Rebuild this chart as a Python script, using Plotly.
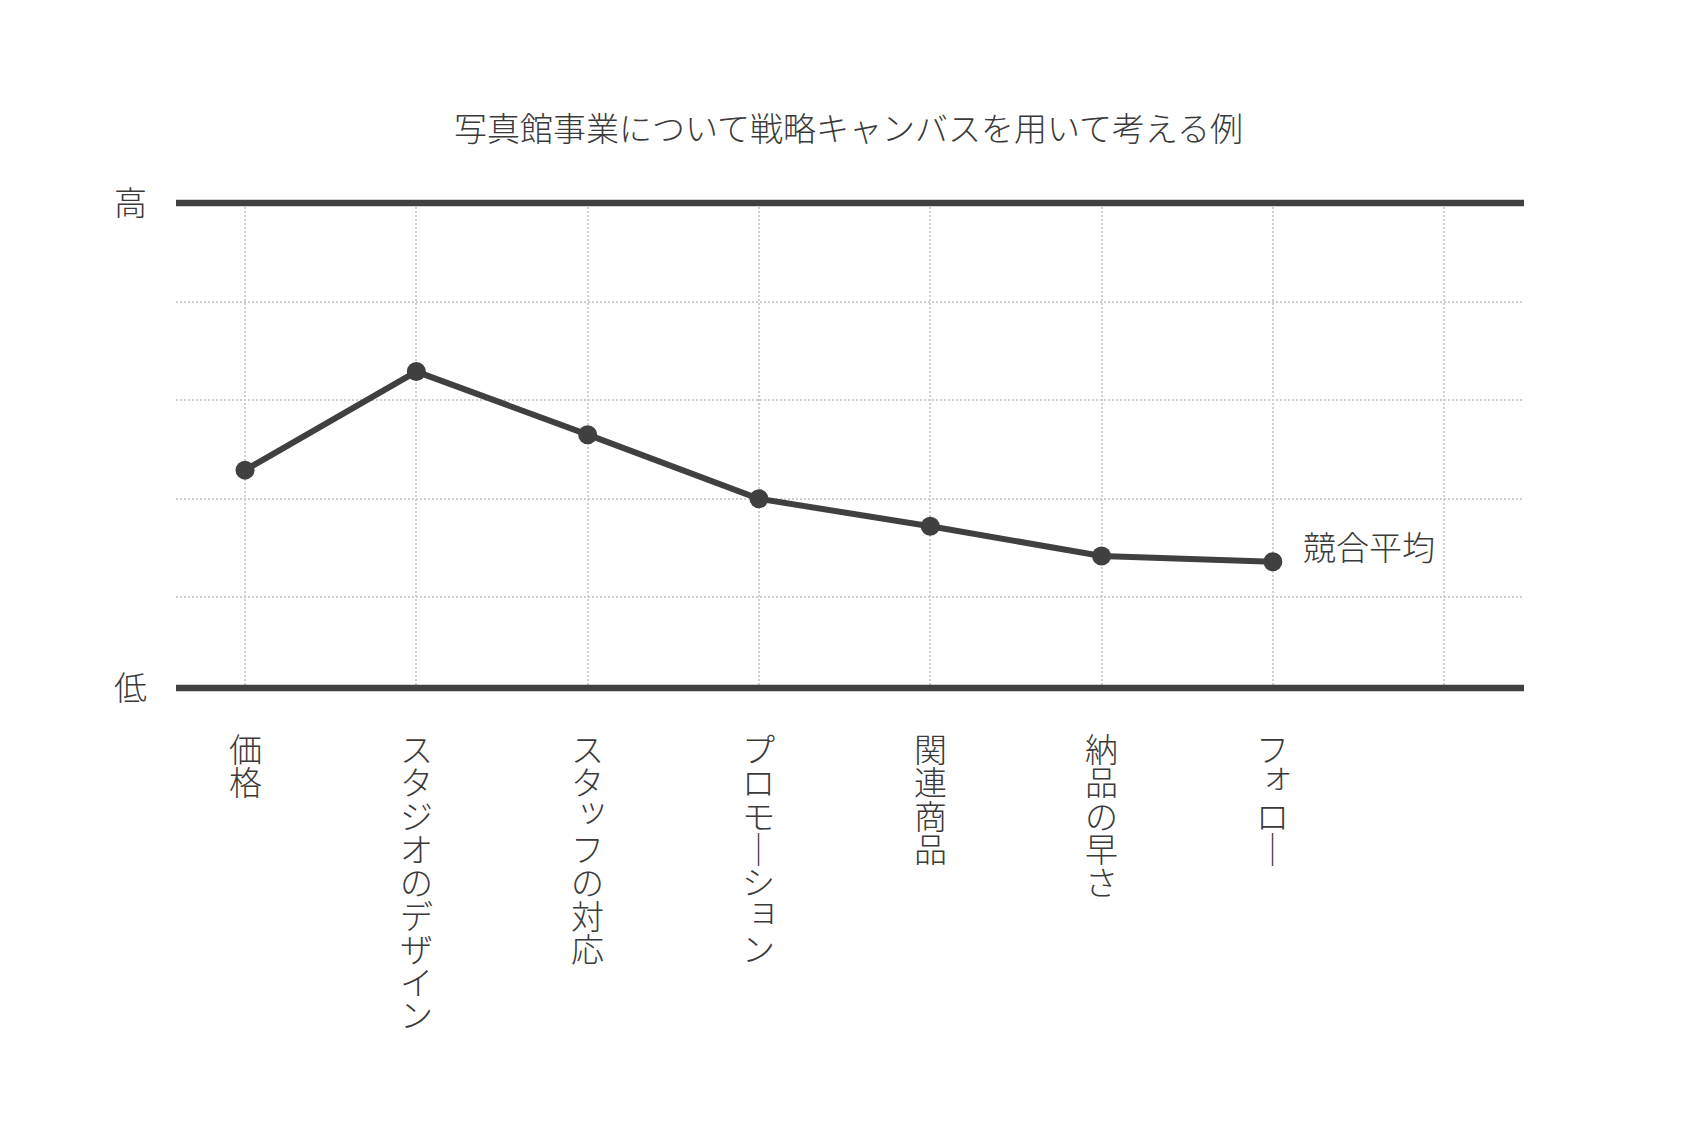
import plotly.graph_objects as go

# ---- data ----
title_text = "写真館事業について戦略キャンバスを用いて考える例"
categories = ["価格", "スタジオのデザイン", "スタッフの対応", "プロモーション", "関連商品", "納品の早さ", "フォロー"]
values = [2.29, 3.29, 2.65, 2.00, 1.72, 1.42, 1.36]
series_name = "競合平均"
level_labels = ["低", "高"]
y_low, y_high = 0.08, 5.0
grid_y = [1, 2, 3, 4]

# ---- style ----
FONT = "Noto Sans CJK JP"
TXT = "#3a3a3a"
LINE = "#404040"
GRID = "#cfcfcf"
FS = 33
STEP = 33.3

x_idx = list(range(len(categories)))

fig = go.Figure()
fig.add_trace(go.Scatter(
    x=x_idx, y=values, mode="lines+markers", name=series_name,
    line=dict(color=LINE, width=6),
    marker=dict(color=LINE, size=19),
    showlegend=False, hoverinfo="skip",
))

# vertical-writing category labels
small_kana = set("ァィゥェォッャュョヮぁぃぅぇぉっゃゅょ")
vert_map = {"ー": "｜"}
annotations = []
for xi, label in enumerate(categories):
    for j, ch in enumerate(label):
        small = ch in small_kana
        annotations.append(dict(
            x=xi, xref="x", y=0, yref="paper",
            xanchor="center", yanchor="middle",
            xshift=5 if small else 0,
            yshift=-(60 + STEP * j) + (7 if small else 0),
            text=vert_map.get(ch, ch), showarrow=False,
            font=dict(family=FONT, size=FS, color=TXT, weight=300),
        ))

# series label at the end of the line
annotations.append(dict(
    x=x_idx[-1], y=values[-1], xref="x", yref="y",
    xanchor="left", yanchor="middle", xshift=28, yshift=16,
    text=series_name, showarrow=False,
    font=dict(family=FONT, size=FS, color=TXT, weight=300),
))

# thick top / bottom frame lines (paper refs so they are not clipped)
shapes = []
for yp in (0, 1):
    shapes.append(dict(type="line", xref="paper", yref="paper", x0=0, x1=1, y0=yp, y1=yp,
                       line=dict(color=LINE, width=6.5), layer="above"))

fig.update_layout(
    width=1697, height=1125,
    margin=dict(l=176, r=173, t=203, b=437),
    paper_bgcolor="white", plot_bgcolor="white",
    title=dict(text=title_text, x=0.5, xanchor="center", xref="container",
               y=1 - 129 / 1125, yref="container", yanchor="middle",
               font=dict(family=FONT, size=FS, color=TXT, weight=300)),
    annotations=annotations,
    shapes=shapes,
    xaxis=dict(
        range=[-0.403, 7.466], tickvals=list(range(len(categories) + 1)),
        showticklabels=False, showgrid=True, gridcolor=GRID, gridwidth=1.5,
        griddash="2px,2px", zeroline=False, showline=False, ticks="",
        fixedrange=True,
    ),
    yaxis=dict(
        range=[y_low, y_high],
        tickvals=[y_low] + grid_y + [y_high],
        ticktext=[level_labels[0]] + [""] * len(grid_y) + [level_labels[1]],
        tickfont=dict(family=FONT, size=FS, color=TXT, weight=300),
        showgrid=True, gridcolor=GRID, gridwidth=1.5, griddash="2px,2px",
        zeroline=False, showline=False, ticks="", ticklabelstandoff=28,
        fixedrange=True,
    ),
    font=dict(family=FONT, color=TXT),
)

fig.write_html("out.html")
